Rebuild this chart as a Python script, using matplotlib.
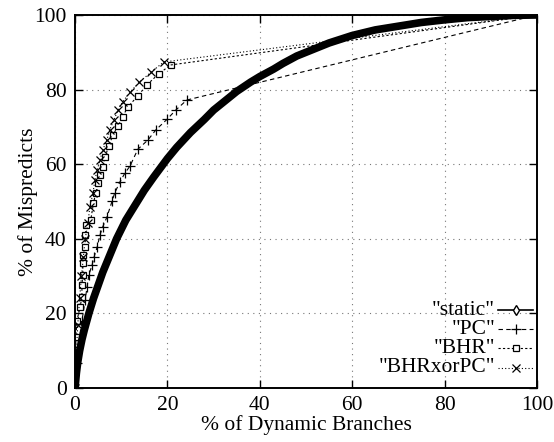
import matplotlib
matplotlib.use("Agg")
import matplotlib.pyplot as plt

plt.rcParams['font.family'] = ['Liberation Serif', 'DejaVu Serif']

# cumulative curves (% dynamic branches, % mispredicts)
static_x = [0, 0.3, 0.6, 1, 1.5, 2, 3, 4, 5, 6, 7, 8, 9, 10, 11, 12, 13, 14, 15, 17,
            20, 22, 25, 28, 30, 33, 35, 38, 40, 43, 45, 48, 50, 55, 60, 65, 70, 75,
            80, 85, 90, 95, 100]
static_y = [0, 4, 7, 10, 13, 15.5, 20, 24, 27.5, 31, 34, 37, 40, 42.5, 45, 47, 49, 51, 53, 56.5,
            61.5, 64.5, 68.5, 72, 74.5, 77.5, 79.5, 82, 83.5, 85.5, 87, 89, 90, 92.5, 94.5, 96, 97, 98,
            98.7, 99.3, 99.6, 99.9, 100]

pc_x = [0, 0.4, 0.9, 1.5, 2.2, 2.6, 3.0, 3.7, 4.1, 4.8, 5.4, 6.0, 6.9, 8.0, 8.6, 9.7,
        10.8, 11.9, 13.6, 15.8, 17.5, 19.9, 21.8, 24.2, 100]
pc_y = [0, 6.7, 13, 18, 23.6, 27, 30.3, 33, 35, 37.8, 41, 43.2, 45.8, 50, 52.3, 55.2,
        57.6, 59.5, 64, 66.5, 69.2, 72, 74.5, 77.2, 100]

bhr_x = [0, 0.1, 0.2, 0.4, 1.1, 1.5, 1.5, 1.7, 1.7, 1.7, 2.2, 2.2, 2.4, 3.4, 4.0, 4.5,
         5.0, 5.4, 6.0, 6.5, 7.3, 8.2, 9.3, 10.3, 11.4, 13.6, 15.5, 18.1, 20.7, 100]
bhr_y = [0, 9, 13.7, 18, 21.7, 24.4, 27.6, 30.3, 33.5, 35.6, 37.8, 41, 43.7, 45, 49.6, 52.3,
         55, 57.1, 59.2, 61.9, 64.9, 67.8, 70.2, 72.7, 75.3, 78.3, 81.2, 84.2, 86.6, 100]

xor_x = [0, 0.3, 0.6, 1.0, 1.4, 1.8, 2.2, 2.8, 3.2, 3.9, 4.3, 4.8, 5.4, 6.0, 6.9, 7.5,
         8.4, 9.3, 10.3, 12.0, 13.9, 16.5, 19.2, 100]
xor_y = [0, 10, 17, 24, 30, 35, 40, 44.2, 48.5, 52.3, 55.8, 58.4, 61.1, 63.8, 66.5, 69.2,
         71.8, 74.5, 76.7, 79.4, 82, 84.7, 87.4, 100]

labels = ['"static"', '"PC"', '"BHR"', '"BHRxorPC"']

fig = plt.figure(figsize=(5.54, 4.42), dpi=100)
ax = fig.add_axes([0.1354, 0.1222, 0.8339, 0.8439])

thin = 0.8
ax.plot(static_x, static_y, color='black', lw=5.5, solid_capstyle='round',
        solid_joinstyle='round', zorder=4)
ax.plot(pc_x[:-1], pc_y[:-1], color='black', lw=thin, ls=(0, (4, 3)), marker='+', ms=7, mew=0.9)
ax.plot(pc_x[-2:], pc_y[-2:], color='black', lw=thin, ls=(0, (4, 3)))
ax.plot(bhr_x[:-1], bhr_y[:-1], color='black', lw=thin, ls=(0, (2, 2)), marker='s', ms=5,
        mfc='white', mew=0.9)
ax.plot(bhr_x[-2:], bhr_y[-2:], color='black', lw=thin, ls=(0, (2, 2)))
ax.plot(xor_x[:-1], xor_y[:-1], color='black', lw=thin, ls=(0, (1, 2)), marker='x', ms=6, mew=0.9)
ax.plot(xor_x[-2:], xor_y[-2:], color='black', lw=thin, ls=(0, (1, 2)))

ax.set_xlim(0, 100)
ax.set_ylim(0, 100)
ax.set_xticks([0, 20, 40, 60, 80, 100])
ax.set_yticks([0, 20, 40, 60, 80, 100])
ax.grid(True, color='#777777', lw=0.8, ls=(0, (1, 4)))
ax.tick_params(direction='in', length=6, width=1, top=True, right=True,
               labelsize=15.5, pad=6)
for s in ax.spines.values():
    s.set_linewidth(1.4)

ax.set_xlabel('% of Dynamic Branches', fontsize=15.5, labelpad=0)
ax.set_ylabel('% of Mispredicts', fontsize=15.5, labelpad=-3)

# gnuplot-style key: right aligned text, sample to the right
styles = [dict(ls='-', lw=1.2, marker='d', ms=5, mfc='white'),
          dict(ls=(0, (4, 3)), lw=thin, marker='+', ms=7, mew=0.9),
          dict(ls=(0, (2, 2)), lw=thin, marker='s', ms=5, mfc='white', mew=0.9),
          dict(ls=(0, (1, 2)), lw=thin, marker='x', ms=6, mew=0.9)]
rows = [0.209, 0.158, 0.107, 0.054]
for lab, st, yy in zip(labels, styles, rows):
    ax.text(0.909, yy, lab, transform=ax.transAxes, ha='right', va='center', fontsize=15.5)
    ax.plot([0.916, 0.991], [yy, yy], transform=ax.transAxes, color='black', clip_on=False,
            ls=st['ls'], lw=st['lw'])
    ax.plot([0.9535], [yy], transform=ax.transAxes, color='black', marker=st['marker'],
            ms=st['ms'], mfc=st.get('mfc', 'black'), mew=st.get('mew', 1), ls='none', clip_on=False)

fig.savefig('out.png', dpi=100)
